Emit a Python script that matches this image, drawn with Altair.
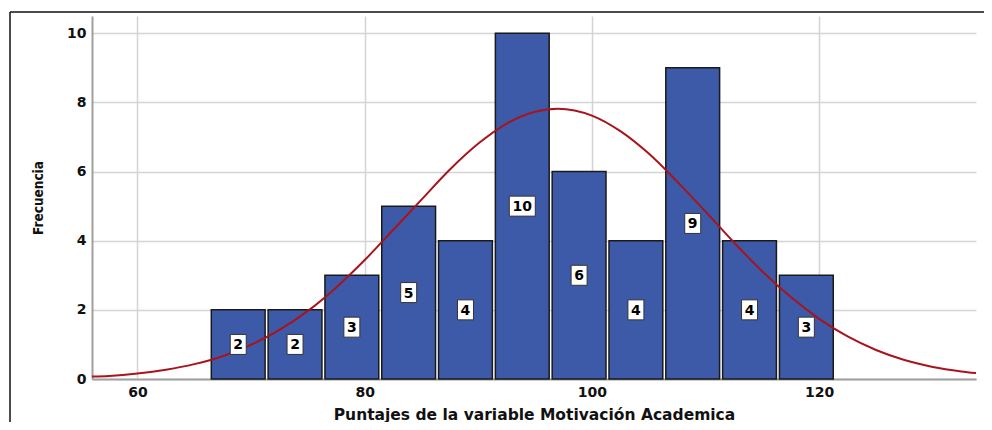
import altair as alt
import pandas as pd

# Histogram bins
bin_start = [66.5, 71.5, 76.5, 81.5, 86.5, 91.5, 96.5, 101.5, 106.5, 111.5, 116.5]
bin_end = [71.5, 76.5, 81.5, 86.5, 91.5, 96.5, 101.5, 106.5, 111.5, 116.5, 121.5]
counts = [2, 2, 3, 5, 4, 10, 6, 4, 9, 4, 3]

# Normal curve points
curve_x = [56, 57.5, 60, 62.5, 65, 67.5, 70, 72.5, 75, 77.5, 80, 82.5, 85, 87.5,
           90, 92.5, 95, 97, 100, 102.5, 105, 107.5, 110, 112.5, 115, 117.5, 120,
           122.5, 125, 127.5, 130, 132.5, 133.8]
curve_y = [0.07, 0.09, 0.16, 0.27, 0.43, 0.66, 0.99, 1.42, 1.97, 2.65, 3.44, 4.31,
           5.19, 6.06, 6.81, 7.39, 7.73, 7.82, 7.62, 7.17, 6.52, 5.71, 4.84, 3.95,
           3.11, 2.37, 1.74, 1.23, 0.84, 0.55, 0.35, 0.22, 0.17]

x_ticks = [60, 80, 100, 120]
y_ticks = [0, 2, 4, 6, 8, 10]

bars = pd.DataFrame({"start": bin_start, "end": bin_end, "count": counts})
curve = pd.DataFrame({"x": curve_x, "y": curve_y})

FONT = "DejaVu Sans"
NARROW = "'DejaVu Sans Condensed', 'Liberation Sans', sans-serif"
xscale = alt.Scale(domain=[56, 133.8], nice=False, zero=False, padding=0)
yscale = alt.Scale(domain=[0, 10.5], nice=False, padding=0)

base = alt.Chart(bars)

bar_layer = base.mark_bar(
    fill="#3d5aa8", stroke="#1a1a1a", strokeWidth=1.5, x2Offset=-3, orient="vertical"
).encode(
    x=alt.X("start:Q", scale=xscale,
            axis=alt.Axis(values=x_ticks, title="Puntajes de la variable Motivación Academica",
                          titleX=442, titleY=35, titleBaseline="middle", titleAlign="center")),
    x2="end:Q",
    y=alt.Y("count:Q", scale=yscale,
            axis=alt.Axis(values=y_ticks, title="Frecuencia",
                          titleX=-54, titleY=181.5, titleBaseline="middle",
                          titleAlign="center", titleAngle=-90)),
    y2=alt.datum(0),
)

lab = base.transform_calculate(
    cx="(datum.start + datum.end) / 2 - 0.13", my="datum.count / 2"
)

box1 = lab.transform_filter("datum.count < 10").mark_rect(
    width=16, height=20, fill="white", stroke="#333333", strokeWidth=1
).encode(x=alt.X("cx:Q", scale=xscale), y=alt.Y("my:Q", scale=yscale))

box2 = lab.transform_filter("datum.count >= 10").mark_rect(
    width=26, height=20, fill="white", stroke="#333333", strokeWidth=1
).encode(x=alt.X("cx:Q", scale=xscale), y=alt.Y("my:Q", scale=yscale))

text = lab.mark_text(
    font=FONT, fontSize=14, fontWeight="bold", color="black", baseline="middle", dy=1
).encode(x=alt.X("cx:Q", scale=xscale), y=alt.Y("my:Q", scale=yscale),
         text=alt.Text("count:Q"))

line = alt.Chart(curve).mark_line(
    color="#a8141c", strokeWidth=2, interpolate="monotone"
).encode(x=alt.X("x:Q", scale=xscale), y=alt.Y("y:Q", scale=yscale))

one = pd.DataFrame({"a": [0]})
frame_top = alt.Chart(one).mark_rule(color="#111111", strokeWidth=1.5).encode(
    x=alt.value(-82), x2=alt.value(892), y=alt.value(-4))
frame_left = alt.Chart(one).mark_rule(color="#111111", strokeWidth=1.5).encode(
    x=alt.value(-82), y=alt.value(-4), y2=alt.value(420))

chart = alt.layer(bar_layer, line, box1, box2, text, frame_top, frame_left).properties(
    width=884, height=363,
    autosize=alt.AutoSizeParams(type="none"),
    padding={"left": 84, "top": 8, "right": 8, "bottom": 43},
).configure_view(stroke=None).configure_axis(
    labelFont=FONT, labelFontSize=14, labelFontWeight="bold", labelColor="#111111",
    titleFont=FONT, titleFontSize=15.5, titleFontWeight="bold", titleColor="#111111",
    domainColor="#a0a0a0", domainWidth=2, gridColor="#d4d4d4", gridWidth=1.5,
    ticks=False, labelPadding=6,
).configure_axisY(
    titleFont=NARROW, titleFontSize=13.5, titleFontWeight="bold",
)

chart.save("out.html", embed_options={"renderer": "svg", "actions": False})
